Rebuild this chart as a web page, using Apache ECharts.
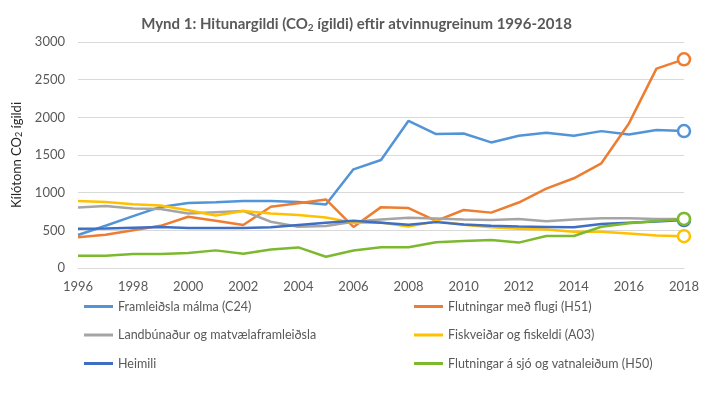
<!DOCTYPE html>
<html>
<head>
<meta charset="utf-8">
<script src="https://cdn.jsdelivr.net/npm/echarts@6/dist/echarts.min.js"></script>
<style>html,body{margin:0;padding:0;background:#fff}#c{width:713px;height:393px}</style>
</head>
<body>
<div id="c"></div>
<script>
const years = ['1996','1997','1998','1999','2000','2001','2002','2003','2004','2005','2006','2007','2008','2009','2010','2011','2012','2013','2014','2015','2016','2017','2018'];
const seriesNames = ['Framleiðsla málma (C24)','Flutningar með flugi (H51)','Landbúnaður og matvælaframleiðsla','Fiskveiðar og fiskeldi (A03)','Heimili','Flutningar á sjó og vatnaleiðum (H50)'];
const c24 = [438, 561, 688, 811, 863, 872, 890, 890, 876, 842, 1310, 1434, 1954, 1778, 1786, 1667, 1756, 1795, 1756, 1817, 1773, 1831, 1817];
const h51 = [408, 440, 500, 560, 680, 628, 571, 812, 860, 910, 545, 808, 795, 626, 770, 735, 869, 1054, 1191, 1390, 1919, 2647, 2770];
const landb = [803, 824, 789, 784, 724, 741, 758, 614, 548, 557, 614, 645, 666, 658, 645, 636, 650, 622, 644, 662, 662, 650, 650];
const a03 = [890, 876, 846, 829, 767, 697, 758, 724, 705, 671, 600, 605, 550, 620, 575, 540, 520, 510, 482, 482, 458, 430, 423];
const heimili = [520, 525, 535, 545, 530, 530, 530, 540, 570, 600, 626, 600, 574, 609, 579, 561, 550, 545, 540, 583, 600, 618, 636];
const h50 = [163, 163, 185, 185, 198, 234, 190, 245, 273, 150, 232, 276, 276, 342, 359, 372, 337, 425, 425, 548, 595, 625, 652];
const yTicks = {min: 0, max: 3000, interval: 500};

const values = [c24, h51, landb, a03, heimili, h50];
const colors = ['#5294D8', '#ED7D31', '#A5A5A5', '#FFC000', '#3F6FC4', '#7DB92F'];
const FONT = 'Lato';

const chart = echarts.init(document.getElementById('c'), null, {renderer: 'canvas'});
const series = values.map((arr, i) => ({
  name: seriesNames[i],
  type: 'line',
  data: arr.map((v, j) => j === arr.length - 1
    ? {value: v, symbol: 'circle', symbolSize: 12, itemStyle: {color: '#fff', borderColor: colors[i], borderWidth: 2.5}}
    : {value: v, symbol: 'none'}),
  symbol: 'none',
  showSymbol: true,
  lineStyle: {width: 2.5, color: colors[i]},
  itemStyle: {color: colors[i]},
  animation: false,
  z: 2
}));

const legendCommon = {
  orient: 'vertical',
  top: 299,
  icon: 'rect',
  itemWidth: 29,
  itemHeight: 3,
  itemGap: 13.5,
  textStyle: {fontFamily: FONT, fontSize: 12.5, color: '#595959', lineHeight: 15},
  padding: 0,
  selectedMode: false
};

chart.setOption({
  backgroundColor: '#fff',
  title: {
    text: '{a|Mynd 1: Hitunargildi (CO}{s|2}{a| ígildi) eftir atvinnugreinum 1996-2018}',
    left: 'center',
    top: 10,
    textStyle: {
      rich: {
        a: {fontFamily: FONT, fontSize: 15, fontWeight: 'bold', color: '#595959'},
        s: {fontFamily: FONT, fontSize: 10, fontWeight: 'bold', color: '#595959', verticalAlign: 'bottom', padding: [8, 0, 0, 0]}
      }
    }
  },
  grid: {left: 78, right: 29, top: 42, bottom: 125, containLabel: false},
  legend: [
    Object.assign({}, legendCommon, {left: 84, data: [seriesNames[0], seriesNames[2], seriesNames[4]]}),
    Object.assign({}, legendCommon, {left: 414, data: [seriesNames[1], seriesNames[3], seriesNames[5]]})
  ],
  xAxis: {
    type: 'category',
    data: years,
    boundaryGap: false,
    axisLine: {lineStyle: {color: '#D9D9D9', width: 1}},
    axisTick: {show: false},
    axisLabel: {interval: 1, fontFamily: FONT, fontSize: 13, color: '#595959', margin: 12}
  },
  yAxis: {
    type: 'value',
    min: yTicks.min, max: yTicks.max, interval: yTicks.interval,
    axisLine: {show: false},
    axisTick: {show: false},
    splitLine: {lineStyle: {color: '#D9D9D9', width: 1}},
    axisLabel: {fontFamily: FONT, fontSize: 13, color: '#595959', margin: 13, formatter: v => String(v)},
    name: '{a|Kílótonn CO}{s|2}{a| ígildi}',
    nameLocation: 'middle',
    nameRotate: 90,
    nameGap: 52,
    nameTextStyle: {
      rich: {
        a: {fontFamily: FONT, fontSize: 13, color: '#262626'},
        s: {fontFamily: FONT, fontSize: 9, color: '#262626', padding: [6, 0, 0, 0]}
      }
    }
  },
  series: series
});
</script>
</body>
</html>
